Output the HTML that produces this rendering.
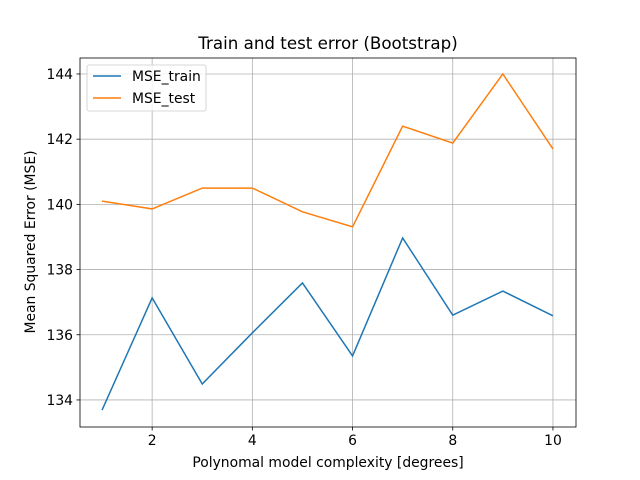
<!DOCTYPE html>
<html><head><meta charset="utf-8"><style>
body{margin:0;background:#fff;}
svg{display:block;font-family:"DejaVu Sans","Liberation Sans",sans-serif;}
</style></head><body>
<svg id="chart" width="640" height="480"></svg>
<script>
const degrees=[1,2,3,4,5,6,7,8,9,10];
const mseTrain=[133.69,137.13,134.49,136.06,137.59,135.35,138.97,136.6,137.34,136.58];
const mseTest=[140.1,139.86,140.5,140.5,139.77,139.31,142.4,141.88,144.0,141.7];
const xTicks=[2,4,6,8,10];
const yTicks=[134,136,138,140,142,144];
const L=80,R=576,T=58,B=427;
const xMin=0.56,xMax=10.46,yMin=133.17,yMax=144.49;
const sx=v=>L+(v-xMin)/(xMax-xMin)*(R-L);
const sy=v=>B-(v-yMin)/(yMax-yMin)*(B-T);
const svg=document.getElementById('chart');
const NS='http://www.w3.org/2000/svg';
function mk(tag,attrs,parent){const e=document.createElementNS(NS,tag);for(const k in attrs)e.setAttribute(k,attrs[k]);(parent||svg).appendChild(e);return e;}
xTicks.forEach(t=>{
 const g=mk('line',{x1:sx(t),x2:sx(t),y1:T,y2:B,stroke:'#b0b0b0','stroke-width':0.8});
 
 
 mk('line',{x1:sx(t),x2:sx(t),y1:B,y2:B+3.5,stroke:'#000','stroke-width':0.8});
 const tx=mk('text',{x:sx(t),y:B+18,'text-anchor':'middle','font-size':13.9,fill:'#000'});tx.textContent=t;
 
 
});
yTicks.forEach(t=>{
 const g=mk('line',{x1:L,x2:R,y1:sy(t),y2:sy(t),stroke:'#b0b0b0','stroke-width':0.8});
 
 
 mk('line',{x1:L-3.5,x2:L,y1:sy(t),y2:sy(t),stroke:'#000','stroke-width':0.8});
 const tx=mk('text',{x:L-7,y:sy(t)+5,'text-anchor':'end','font-size':13.9,fill:'#000'});tx.textContent=t;
 
 
});
function series(vals,color,name){
 const p=mk('polyline',{points:degrees.map((d,i)=>sx(d)+','+sy(vals[i])).join(' '),fill:'none',stroke:color,'stroke-width':1.5});
 
 
}
series(mseTrain,'#1f77b4','mse-train-line');
series(mseTest,'#ff7f0e','mse-test-line');
const frame=mk('rect',{x:L,y:T,width:R-L,height:B-T,fill:'none',stroke:'#000','stroke-width':0.8});


const title=mk('text',{x:(L+R)/2,y:49,'text-anchor':'middle','font-size':16.7,fill:'#000'});title.textContent='Train and test error (Bootstrap)';


const xl=mk('text',{x:(L+R)/2,y:467,'text-anchor':'middle','font-size':13.9,fill:'#000'});xl.textContent='Polynomal model complexity [degrees]';


const yl=mk('text',{x:0,y:0,transform:'translate(35,242) rotate(-90)','text-anchor':'middle','font-size':13.9,fill:'#000'});yl.textContent='Mean Squared Error (MSE)';


const lg=mk('g',{});


mk('rect',{x:87,y:65,width:119,height:46,rx:2,fill:'#fff','fill-opacity':0.8,stroke:'#ccc','stroke-width':0.8},lg);
[['MSE_train','#1f77b4',76],['MSE_test','#ff7f0e',98]].forEach(([n,c,y])=>{
 const e=mk('g',{},lg);
 
 
 mk('line',{x1:93,x2:121,y1:y,y2:y,stroke:c,'stroke-width':1.5},e);
 const t=mk('text',{x:132,y:y+5,'font-size':13.9,fill:'#000'},e);t.textContent=n;
});
</script>
</body></html>
